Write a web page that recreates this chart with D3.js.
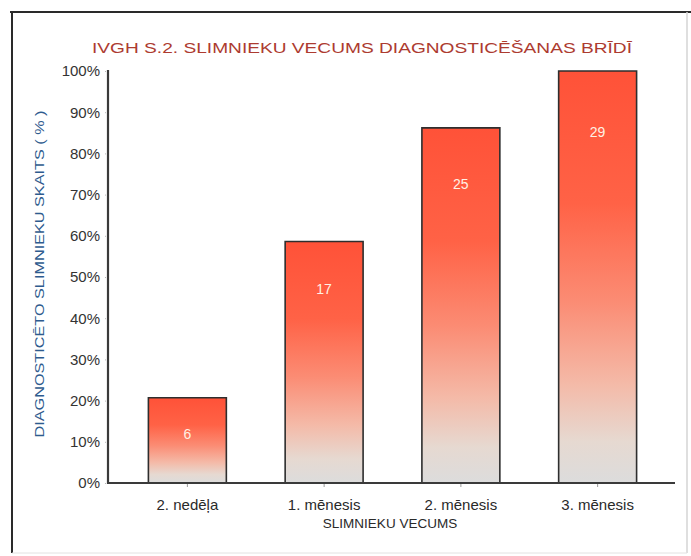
<!DOCTYPE html>
<html>
<head>
<meta charset="utf-8">
<script src="https://cdn.jsdelivr.net/npm/d3@7"></script>
<style>
  html, body { margin: 0; padding: 0; background: #fff; }
  svg { display: block; }
</style>
</head>
<body>
<svg id="chart" width="691" height="556"></svg>
<script>
// Patient age at the time of diagnosis (cumulative share of patients)
const categories = ["2. nedēļa", "1. mēnesis", "2. mēnesis", "3. mēnesis"];
const counts = [6, 17, 25, 29];           // cumulative number of diagnosed patients
const total = 29;
const yTicks = [0, 10, 20, 30, 40, 50, 60, 70, 80, 90, 100];

const titleText = "IVGH S.2. SLIMNIEKU VECUMS DIAGNOSTICĒŠANAS BRĪDĪ";
const yTitleText = "DIAGNOSTICĒTO SLIMNIEKU SKAITS ( % )";
const xTitleText = "SLIMNIEKU VECUMS";

const svg = d3.select("#chart");
const font = "'Liberation Sans', Arial, sans-serif";

// outer frame
svg.append("line").attr("x1", 10).attr("x2", 691).attr("y1", 12).attr("y2", 12)
  .attr("stroke", "#2a2a2a").attr("stroke-width", 2);
svg.append("line").attr("x1", 12).attr("x2", 12).attr("y1", 12).attr("y2", 553)
  .attr("stroke", "#2a2a2a").attr("stroke-width", 2);
svg.append("line").attr("x1", 687).attr("x2", 687).attr("y1", 12).attr("y2", 553)
  .attr("stroke", "#d4d4d4").attr("stroke-width", 1.5);
svg.append("line").attr("x1", 12).attr("x2", 687).attr("y1", 553).attr("y2", 553)
  .attr("stroke", "#e2e2e2").attr("stroke-width", 1);

// scales
const x = d3.scaleBand().domain(categories).range([119, 666]).paddingInner(0.43).paddingOuter(0.215);
const y = d3.scaleLinear().domain([0, 100]).range([483, 71]);

// bar gradient: tomato red at top fading to light grey at the base
const defs = svg.append("defs");
const grad = defs.append("linearGradient").attr("id", "barGrad")
  .attr("x1", 0).attr("y1", 0).attr("x2", 0).attr("y2", 1);
[[0, "#ff5238"], [0.32, "#ff6246"], [0.56, "#fb8c74"], [0.76, "#f4baa8"], [0.9, "#e6d9d1"], [1, "#dcdcdc"]]
  .forEach(([o, c]) => grad.append("stop").attr("offset", o).attr("stop-color", c));

// title
svg.append("text")
  .attr("x", 362).attr("y", 53)
  .attr("text-anchor", "middle")
  .attr("font-family", font).attr("font-size", 15)
  .attr("textLength", 540).attr("lengthAdjust", "spacingAndGlyphs")
  .attr("fill", "#ad3b30")
  .text(titleText);

// y axis
const yAxis = d3.axisLeft(y).tickValues(yTicks).tickFormat(d => d + "%").tickSize(4).tickPadding(4);
const gy = svg.append("g").attr("transform", "translate(108,0)").call(yAxis);
gy.select(".domain").remove();
gy.selectAll(".tick line").attr("stroke", "#b8b8b8").attr("stroke-dasharray", "1,1");
gy.selectAll(".tick text").attr("font-family", font).attr("font-size", 15).attr("fill", "#333");

// x axis
const xAxis = d3.axisBottom(x).tickSize(4).tickPadding(12);
const gx = svg.append("g").attr("transform", "translate(0,483)").call(xAxis);
gx.select(".domain").remove();
gx.selectAll(".tick line").attr("stroke", "#9a9a9a");
gx.selectAll(".tick text").attr("font-family", font).attr("font-size", 15).attr("fill", "#2a2a2a");

// bars
const bars = svg.append("g");
categories.forEach((c, i) => {
  const pct = counts[i] / total * 100;
  const x0 = x(c), w = x.bandwidth(), top = y(pct), bottom = y(0);
  bars.append("rect")
    .attr("x", x0).attr("y", top).attr("width", w).attr("height", bottom - top)
    .attr("fill", "url(#barGrad)");
  bars.append("path")
    .attr("d", `M${x0},${bottom} V${top} H${x0 + w} V${bottom}`)
    .attr("fill", "none").attr("stroke", "#2e2e2e").attr("stroke-width", 1.6);
  const h = bottom - top;
  const off = Math.min(h / 2 - 2, 30 + 0.075 * h);
  bars.append("text")
    .attr("x", x0 + w / 2).attr("y", top + off)
    .attr("dy", "0.35em")
    .attr("text-anchor", "middle")
    .attr("font-family", font).attr("font-size", 14)
    .attr("fill", "#fff1e4")
    .text(counts[i]);
});

// axis lines
svg.append("line").attr("x1", 108).attr("x2", 108).attr("y1", 70).attr("y2", 484)
  .attr("stroke", "#3a3a3a").attr("stroke-width", 2.2);
svg.append("line").attr("x1", 107).attr("x2", 675).attr("y1", 483).attr("y2", 483)
  .attr("stroke", "#3a3a3a").attr("stroke-width", 2.2);

// axis titles
svg.append("text")
  .attr("transform", "translate(44,274) rotate(-90)")
  .attr("text-anchor", "middle")
  .attr("font-family", font).attr("font-size", 13)
  .attr("textLength", 327).attr("lengthAdjust", "spacingAndGlyphs")
  .attr("fill", "#2e5b8e")
  .text(yTitleText);

svg.append("text")
  .attr("x", 390).attr("y", 528)
  .attr("text-anchor", "middle")
  .attr("font-family", font).attr("font-size", 13.5)
  .attr("fill", "#2a2a2a")
  .text(xTitleText);
</script>
</body>
</html>
